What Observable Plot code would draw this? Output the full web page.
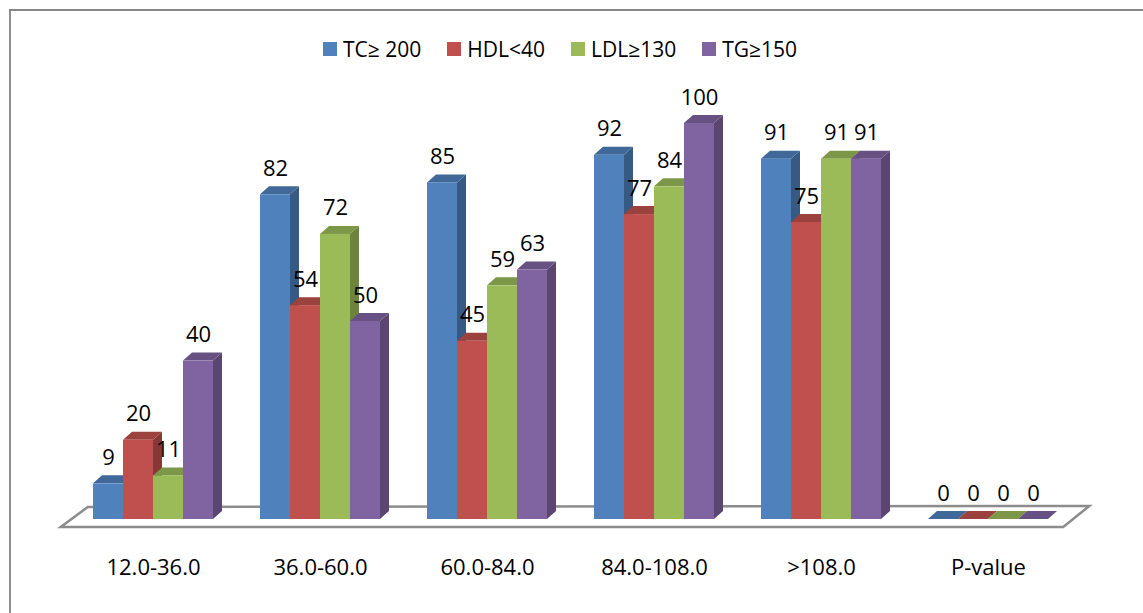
<!DOCTYPE html>
<html><head><meta charset="utf-8">
<script src="https://cdn.jsdelivr.net/npm/d3@7"></script>
<script src="https://cdn.jsdelivr.net/npm/@observablehq/plot@0.6"></script>
<style>
html,body{margin:0;padding:0;background:#fff;overflow:hidden;width:1143px;height:613px;}
body{position:relative;font-family:"Open Sans",sans-serif;}
#frame{position:absolute;left:9px;top:9px;width:1300px;height:800px;border-top:2px solid #878787;border-left:2px solid #8f8f8f;}
#legend{position:absolute;top:36px;left:323px;display:flex;gap:26px;font-size:21px;line-height:26px;color:#000;white-space:nowrap;}
.item{display:flex;align-items:center;}
.sw{width:14px;height:14px;margin-right:6px;}
#chart{position:absolute;left:0;top:80px;}
</style></head><body>
<div id="frame"></div>
<div id="legend"></div>
<div id="chart"></div>
<script>
const categories = ["12.0-36.0", "36.0-60.0", "60.0-84.0", "84.0-108.0", ">108.0", "P-value"];
const series = ["TC≥ 200", "HDL<40", "LDL≥130", "TG≥150"];
const colors = ["#4F81BD", "#C0504D", "#9BBB59", "#8064A2"];
const tc  = [9, 82, 85, 92, 91, 0];
const hdl = [20, 54, 45, 77, 75, 0];
const ldl = [11, 72, 59, 84, 91, 0];
const tg  = [40, 50, 63, 100, 91, 0];

const valuesBySeries = [tc, hdl, ldl, tg];
const data = [];
categories.forEach((c, i) => series.forEach((s, j) => data.push({cat: c, series: s, value: valuesBySeries[j][i]})));

// legend
const legend = document.getElementById("legend");
series.forEach((s, j) => {
  const it = document.createElement("div"); it.className = "item";
  const sw = document.createElement("div"); sw.className = "sw"; sw.style.background = colors[j];
  const tx = document.createElement("span"); tx.textContent = s;
  it.appendChild(sw); it.appendChild(tx); legend.appendChild(it);
});

const W = 1143, H = 533;
const PAD = 0.268;
const chart = Plot.plot({
  width: W, height: H,
  marginTop: 43, marginBottom: 94, marginLeft: 47, marginRight: 49,
  style: {fontFamily: "'Open Sans', sans-serif", fontSize: "22px", background: "transparent", overflow: "visible", color: "#000"},
  facet: {data: data, x: "cat"},
  fx: {domain: categories, paddingInner: PAD, paddingOuter: PAD, axis: "bottom", tickSize: 0, tickPadding: 40, label: null},
  x: {domain: series, padding: 0, axis: null},
  y: {domain: [0, 100], axis: null},
  color: {domain: series, range: colors},
  marks: [
    Plot.barY(data, {x: "series", y: "value", fill: "series"}),
    Plot.text(data, {x: "series", y: "value", text: d => String(d.value), dy: -26, fill: "#000"})
  ]
});
document.getElementById("chart").appendChild(chart);

// 3D decoration derived from the rendered bars and the library's scales
const ns = "http://www.w3.org/2000/svg";
const DX = 9, DY = 8;
const shade = (c, k) => d3.color(c).darker(k).formatHex();

// floor
const fxs = chart.scale("fx");
const ys = chart.scale("y");
const band = d3.scaleBand(fxs.domain, fxs.range)
  .paddingInner(fxs.paddingInner ?? PAD)
  .paddingOuter(fxs.paddingOuter ?? PAD)
  .align(fxs.align ?? 0.5);
const yLin = d3.scaleLinear(ys.domain, ys.range);
const b0 = band(categories[0]);
const bEnd = band(categories[categories.length - 1]) + band.bandwidth();
const y0 = yLin(0);
const floor = document.createElementNS(ns, "polygon");
floor.setAttribute("points", [
  [b0 - 31, y0 + 8], [b0 - 4, y0 - 12], [bEnd + 40, y0 - 13], [bEnd + 14, y0 + 8]
].map(p => p.join(",")).join(" "));
floor.setAttribute("fill", "#fff");
floor.setAttribute("stroke", "#8c8c8c");
floor.setAttribute("stroke-width", "2.5");
const firstG = chart.querySelector("g");
chart.insertBefore(floor, firstG);

d3.select(chart).selectAll("g[aria-label='bar'] rect").each(function () {
  const x = +this.getAttribute("x"), y = +this.getAttribute("y");
  const w = +this.getAttribute("width"), h = +this.getAttribute("height");
  const fill = this.getAttribute("fill") || this.parentNode.getAttribute("fill");
  const side = document.createElementNS(ns, "polygon");
  side.setAttribute("points", `${x + w},${y} ${x + w + DX},${y - DY} ${x + w + DX},${y + h - DY} ${x + w},${y + h}`);
  side.setAttribute("fill", shade(fill, 1.0));
  const top = document.createElementNS(ns, "polygon");
  top.setAttribute("points", `${x},${y} ${x + DX},${y - DY} ${x + w + DX},${y - DY} ${x + w},${y}`);
  top.setAttribute("fill", shade(fill, 0.6));
  this.parentNode.insertBefore(side, this);
  this.parentNode.insertBefore(top, this);
});
</script>
</body></html>
